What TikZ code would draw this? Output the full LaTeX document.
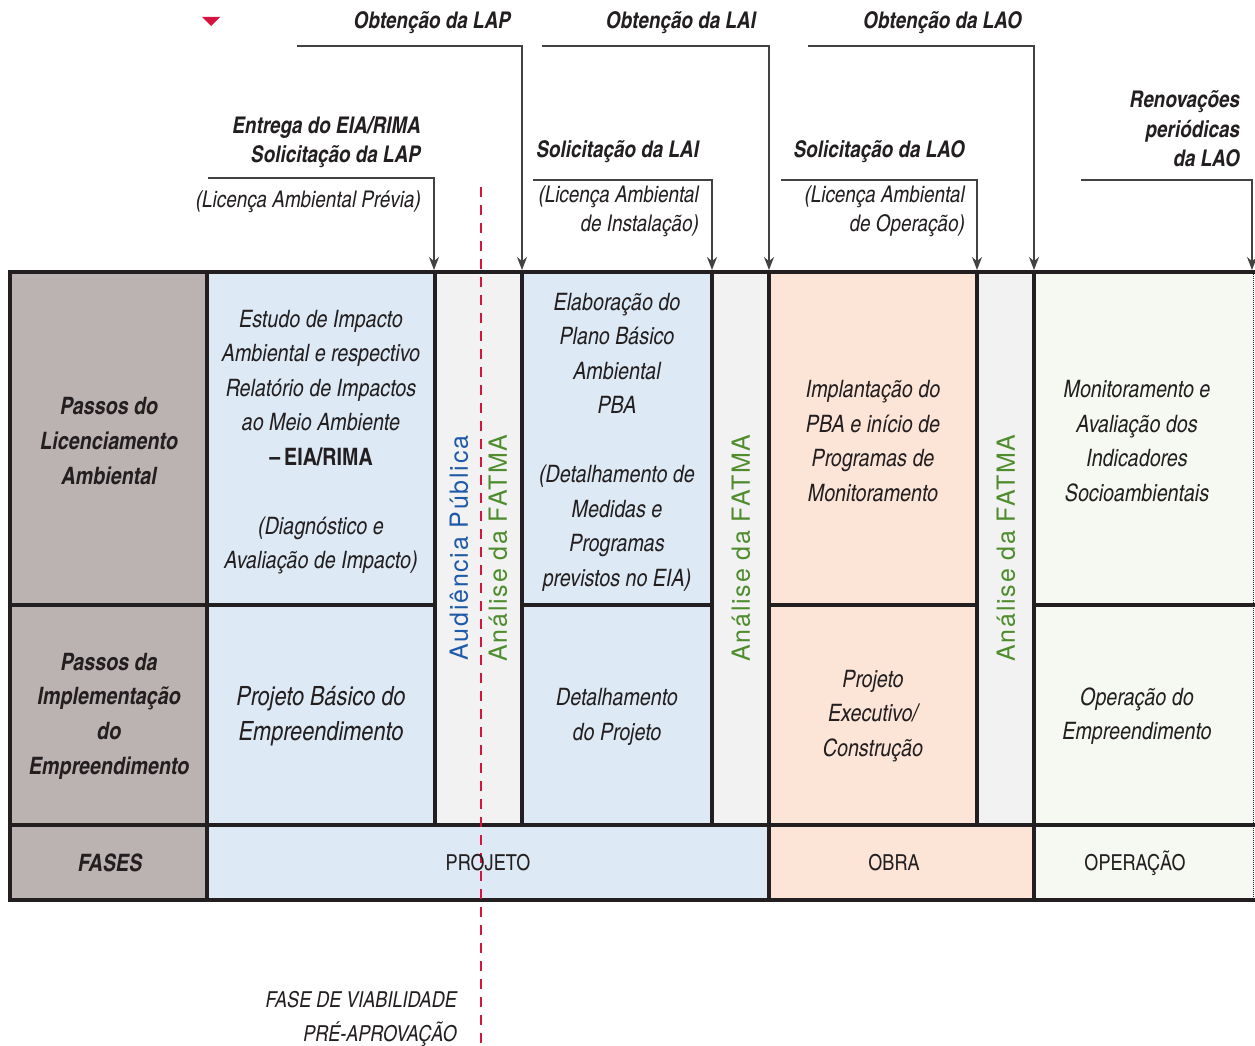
\documentclass[tikz,border=0pt]{standalone}
\usepackage{fontspec}
\setmainfont{texgyreheroscn}[Extension=.otf, UprightFont=*-regular, BoldFont=*-bold, ItalicFont=*-italic, BoldItalicFont=*-bolditalic]
\newfontfamily\vertfont{TeX Gyre Heros}[LetterSpace=7]
\usetikzlibrary{arrows.meta,calc,positioning}

\definecolor{cpasso}{HTML}{BBB3B1}
\definecolor{cazul}{HTML}{DDE9F5}
\definecolor{ccinza}{HTML}{F2F2F2}
\definecolor{cpele}{HTML}{FCE4D7}
\definecolor{cverde}{HTML}{F6F9F2}
\definecolor{cvermelho}{HTML}{D7143F}
\definecolor{ctinta}{HTML}{231F20}
\definecolor{cfatma}{HTML}{4E8C2E}
\definecolor{caudi}{HTML}{1F5AA8}

\begin{document}
\begin{tikzpicture}[x=1pt,y=-1pt,
  hdr/.style={font=\fontsize{23}{28.5}\selectfont\bfseries\itshape, align=right, anchor=east, text=ctinta, inner sep=0pt},
  sub/.style={font=\fontsize{23}{29}\selectfont\itshape, align=right, anchor=east, text=ctinta, inner sep=0pt},
  cel/.style={font=\fontsize{24}{34.5}\selectfont\itshape, align=center, text=ctinta, inner sep=0pt},
  passo/.style={font=\fontsize{24}{34.7}\selectfont\bfseries\itshape, align=center, text=ctinta, inner sep=0pt},
  fase/.style={font=\fontsize{22}{28}\selectfont, text=ctinta, inner sep=0pt},
  vert/.style={rotate=90, font=\vertfont\fontsize{25}{30}\selectfont, inner sep=0pt},
  grade/.style={line width=4.5pt, draw=ctinta},
  seta/.style={-{Stealth[length=13pt,width=10pt]}, line width=1.3pt, draw=ctinta!85}]

\useasboundingbox (0,0) rectangle (1255,1046);

\fill[cpasso] (10,272) rectangle (207,900);
\fill[cazul] (207,272) rectangle (435,825);
\fill[cazul] (522,272) rectangle (712,825);
\fill[cazul] (207,825) rectangle (769,900);
\fill[ccinza] (435,272) rectangle (522,825);
\fill[ccinza] (712,272) rectangle (769,825);
\fill[ccinza] (977,272) rectangle (1034,825);
\fill[cpele] (769,272) rectangle (977,825);
\fill[cpele] (769,825) rectangle (1034,900);
\fill[cverde] (1034,272) rectangle (1254,900);

\draw[grade] (8,272) -- (1255,272);
\draw[grade] (8,825) -- (1255,825);
\draw[grade] (8,900) -- (1255,900);
\draw[grade] (10,605) -- (435,605);
\draw[grade] (522,605) -- (712,605);
\draw[grade] (769,605) -- (977,605);
\draw[grade] (1034,605) -- (1255,605);
\foreach \x in {10,207,769,1034}
  \draw[grade] (\x,272) -- (\x,900);
\foreach \x in {435,522,712,977}
  \draw[grade] (\x,272) -- (\x,825);
\draw[densely dotted, line width=1pt, ctinta] (1253,272) -- (1253,900);

\draw[cvermelho, line width=2.5pt, dash pattern=on 10pt off 8pt] (481,187) -- (481,1046);
\fill[cvermelho] (202,17) -- (220,17) -- (211,26) -- cycle;

\node[hdr] (oblap) at (511,23) {Obtenção da LAP};
\node[hdr] (oblai) at (756,23) {Obtenção da LAI};
\node[hdr] (oblao) at (1022,23) {Obtenção da LAO};
\node[hdr] (solap) at (421,142) {Entrega do EIA/RIMA\\Solicitação da LAP};
\node[sub] (lap) at (421,202) {(Licença Ambiental Prévia)};
\node[hdr] (solai) at (699,152) {Solicitação da LAI};
\node[sub] (lai) at (699,211.5) {(Licença Ambiental\\de Instalação)};
\node[hdr] (solao) at (965,152) {Solicitação da LAO};
\node[sub] (lao) at (965,211.5) {(Licença Ambiental\\de Operação)};
\node[hdr, font=\fontsize{23}{29.5}\selectfont\bfseries\itshape] (renov) at (1240,129) {Renovações\\periódicas\\da LAO};

\coordinate (iniLAP) at (297,46);
\coordinate (iniLAI) at (542,46);
\coordinate (iniLAO) at (808,46);
\coordinate (iniEIA) at (208,178);
\coordinate (iniSLAI) at (533,180);
\coordinate (iniSLAO) at (781,180);
\coordinate (iniRen) at (1081,180);
\coordinate (topoEIA) at (434,270);
\coordinate (topoLAP) at (522,270);
\coordinate (topoSLAI) at (712,270);
\coordinate (topoLAI) at (769,270);
\coordinate (topoSLAO) at (977,270);
\coordinate (topoLAO) at (1034,270);
\coordinate (topoRen) at (1252,270);

\draw[seta] (iniLAP) -| (topoLAP);
\draw[seta] (iniLAI) -| (topoLAI);
\draw[seta] (iniLAO) -| (topoLAO);
\draw[seta] (iniEIA) -| (topoEIA);
\draw[seta] (iniSLAI) -| (topoSLAI);
\draw[seta] (iniSLAO) -| (topoSLAO);
\draw[seta] (iniRen) -| (topoRen);

\node[passo] (plic) at (109,441) {Passos do\\Licenciamento\\Ambiental};
\node[passo] (pimp) at (109,716) {Passos da\\Implementação\\do\\Empreendimento};
\node[passo] (fases) at (110,863) {FASES};

\node[cel] (eia) at (321,442) {Estudo de Impacto\\Ambiental e respectivo\\Relatório de Impactos\\ao Meio Ambiente\\{\upshape\bfseries –\,EIA/RIMA}\\[34.5pt](Diagnóstico e\\Avaliação de Impacto)};
\node[cel, font=\fontsize{26.5}{35}\selectfont\itshape] (pbe) at (321,716) {Projeto Básico do\\Empreendimento};
\node[cel] (pba) at (617,442) {Elaboração do\\Plano Básico\\Ambiental\\PBA\\[34.5pt](Detalhamento de\\Medidas e\\Programas\\previstos no EIA)};
\node[cel] (detp) at (617,717) {Detalhamento\\do Projeto};
\node[cel] (impl) at (873,441) {Implantação do\\PBA e início de\\Programas de\\Monitoramento};
\node[cel] (exec) at (873,716) {Projeto\\Executivo/\\Construção};
\node[cel] (monit) at (1137,441) {Monitoramento e\\Avaliação dos\\Indicadores\\Socioambientais};
\node[cel] (opem) at (1137,716) {Operação do\\Empreendimento};

\node[fase] (projeto) at (488,863) {PROJETO};
\node[fase] (obra) at (894,863) {OBRA};
\node[fase] (operacao) at (1135,863) {OPERAÇÃO};

\node[vert, text=caudi] (audi) at (459,548) {Audiência Pública};
\node[vert, text=cfatma] (fatmaA) at (498,548) {Análise da FATMA};
\node[vert, text=cfatma] (fatmaB) at (741,548) {Análise da FATMA};
\node[vert, text=cfatma] (fatmaC) at (1006,548) {Análise da FATMA};

\node[sub, font=\fontsize{22}{34}\selectfont\itshape] (viab) at (457,1019) {FASE DE VIABILIDADE\\PRÉ-APROVAÇÃO};

\end{tikzpicture}
\end{document}
